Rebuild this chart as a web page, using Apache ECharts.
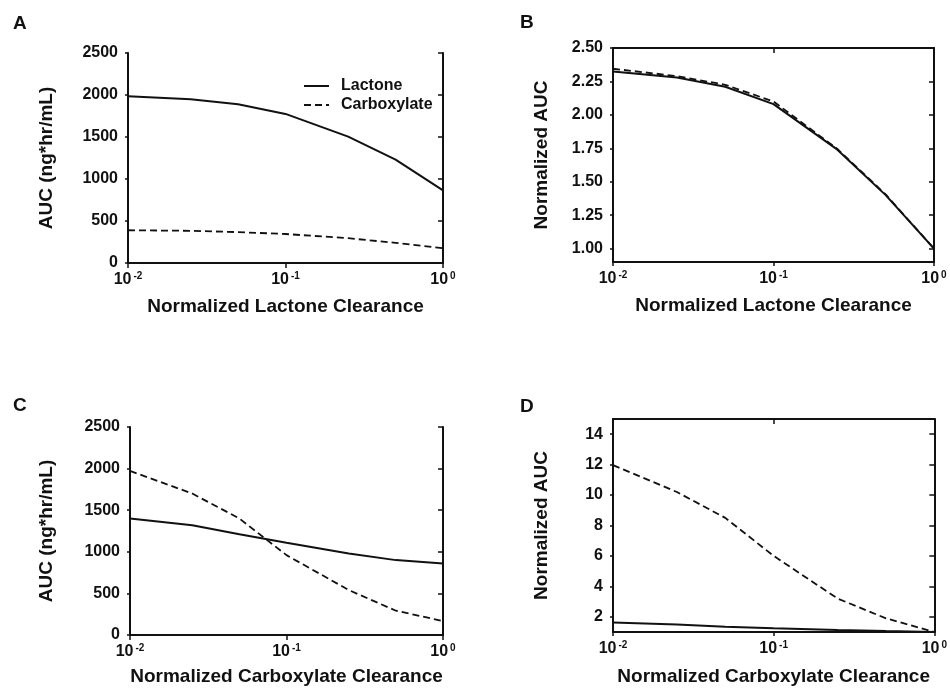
<!DOCTYPE html>
<html>
<head>
<meta charset="utf-8">
<script src="https://cdn.jsdelivr.net/npm/echarts@6/dist/echarts.min.js"></script>
<style>
  html, body { margin: 0; padding: 0; background: #fff; }
  #chart { width: 950px; height: 690px; }
</style>
</head>
<body>
<div id="chart"></div>
<script>
// clearance values (normalized, log scale)
var clearance = [0.01, 0.025, 0.05, 0.1, 0.25, 0.5, 1];

// panel A: AUC vs lactone clearance
var aLactone = [1985, 1950, 1890, 1775, 1505, 1230, 865];
var aCarbox = [390, 383, 368, 345, 295, 240, 175];
// panel B: normalized AUC vs lactone clearance
var bLactone = [2.325, 2.28, 2.21, 2.08, 1.74, 1.40, 1.00];
var bCarbox = [2.345, 2.29, 2.225, 2.10, 1.745, 1.405, 1.00];
// panel C: AUC vs carboxylate clearance
var cLactone = [1400, 1320, 1212, 1108, 980, 900, 860];
var cCarbox = [1972, 1700, 1400, 960, 540, 292, 168];
// panel D: normalized AUC vs carboxylate clearance
var dLactone = [1.63, 1.50, 1.35, 1.24, 1.13, 1.06, 1.00];
var dCarbox = [11.97, 10.2, 8.5, 6.0, 3.2, 1.9, 1.0];

var bTicks = [1.00, 1.25, 1.50, 1.75, 2.00, 2.25, 2.50];
var dTicks = [2, 4, 6, 8, 10, 12, 14];
var panelLetters = ['A', 'B', 'C', 'D'];

(function() {
  var ink = '#111';
  var font = '"Liberation Sans", Arial, sans-serif';
  var chart = echarts.init(document.getElementById('chart'), null, { renderer: 'canvas' });

  var grids = [
    { left: 128, right: 507, top: 53, bottom: 427 },
    { left: 613, right: 16, top: 48, bottom: 428 },
    { left: 130, right: 507, top: 427, bottom: 55 },
    { left: 613, right: 15, top: 419, bottom: 58 }
  ];

  function pairs(ys) {
    return clearance.map(function(x, i) { return [x, ys[i]]; });
  }

  function xAxes(gi, name, gap) {
    var line = { lineStyle: { color: ink, width: 2 } };
    return [{
      type: 'log', logBase: 10, min: 0.01, max: 1, gridIndex: gi,
      name: name, nameLocation: 'middle', nameGap: gap,
      nameTextStyle: { color: ink, fontSize: 19, fontWeight: 'bold', fontFamily: font },
      axisLine: line,
      axisTick: { inside: false, length: 4, lineStyle: { color: ink, width: 1.5 } },
      minorTick: { show: false },
      splitLine: { show: false },
      axisLabel: {
        margin: 8,
        formatter: function(v) {
          var e = Math.round(Math.log(v) / Math.LN10);
          return '{b|10}{s|' + e + '}';
        },
        rich: {
          b: { fontSize: 16, fontWeight: 'bold', color: ink, fontFamily: font, lineHeight: 18 },
          s: { fontSize: 10, fontWeight: 'bold', color: ink, fontFamily: font, verticalAlign: 'top', padding: [0, 0, 0, 2] }
        }
      }
    }, {
      type: 'log', logBase: 10, min: 0.01, max: 1, gridIndex: gi, position: 'top',
      axisLine: line,
      axisTick: { inside: true, length: 5, lineStyle: { color: ink, width: 1.5 } },
      axisLabel: { show: false },
      splitLine: { show: false }
    }];
  }

  function yAxes(gi, name, gap, min, max, interval, ticks, digits) {
    var line = { lineStyle: { color: ink, width: 2 } };
    var left = {
      type: 'value', min: min, max: max, gridIndex: gi,
      name: name, nameLocation: 'middle', nameGap: gap,
      nameTextStyle: { color: ink, fontSize: 19, fontWeight: 'bold', fontFamily: font },
      axisLine: line,
      axisTick: { show: true, inside: false, length: 3, lineStyle: { color: ink, width: 1.5 } },
      splitLine: { show: false },
      axisLabel: {
        margin: 10, color: ink, fontSize: 16, fontWeight: 'bold', fontFamily: font,
        formatter: function(v) { return v.toFixed(digits); }
      }
    };
    var right = {
      type: 'value', min: min, max: max, gridIndex: gi, position: 'right',
      axisLine: line,
      axisTick: { show: true, inside: true, length: 5, lineStyle: { color: ink, width: 1.5 } },
      axisLabel: { show: false },
      splitLine: { show: false }
    };
    if (interval) {
      left.interval = interval;
      right.interval = interval;
    } else {
      left.axisTick.customValues = ticks;
      left.axisLabel.customValues = ticks;
      right.axisTick.customValues = ticks;
    }
    return [left, right];
  }

  var xAxis = [].concat(
    xAxes(0, 'Normalized Lactone Clearance', 34),
    xAxes(1, 'Normalized Lactone Clearance', 34),
    xAxes(2, 'Normalized Carboxylate Clearance', 32),
    xAxes(3, 'Normalized Carboxylate Clearance', 35)
  );
  var yAxis = [].concat(
    yAxes(0, 'AUC (ng*hr/mL)', 72, 0, 2500, 500, null, 0),
    yAxes(1, 'Normalized AUC', 62, 0.9, 2.5, null, bTicks, 2),
    yAxes(2, 'AUC (ng*hr/mL)', 74, 0, 2500, 500, null, 0),
    yAxes(3, 'Normalized AUC', 62, 1, 15, null, dTicks, 0)
  );

  var panels = [[aLactone, aCarbox], [bLactone, bCarbox], [cLactone, cCarbox], [dLactone, dCarbox]];
  var series = [];
  panels.forEach(function(p, i) {
    series.push({
      name: 'Lactone', type: 'line', xAxisIndex: 2 * i, yAxisIndex: 2 * i,
      data: pairs(p[0]), symbol: 'none', smooth: false,
      lineStyle: { color: ink, width: 2 }, itemStyle: { color: ink }
    });
    series.push({
      name: 'Carboxylate', type: 'line', xAxisIndex: 2 * i, yAxisIndex: 2 * i,
      data: pairs(p[1]), symbol: 'none', smooth: false,
      lineStyle: { color: ink, width: 1.8, type: [7, 4] }, itemStyle: { color: ink }
    });
  });

  var letterPos = [[13, 14], [520, 13], [13, 396], [520, 397]];
  var graphic = panelLetters.map(function(t, i) {
    return {
      type: 'text', left: letterPos[i][0], top: letterPos[i][1],
      style: { text: t, fill: ink, fontSize: 19, fontWeight: 'bold', fontFamily: font }
    };
  });

  chart.setOption({
    animation: false,
    backgroundColor: '#fff',
    grid: grids,
    xAxis: xAxis,
    yAxis: yAxis,
    legend: {
      data: ['Lactone', 'Carboxylate'],
      orient: 'vertical', left: 298, top: 73,
      itemWidth: 25, itemHeight: 12, itemGap: 3,
      itemStyle: { opacity: 0 },
      textStyle: { color: ink, fontSize: 16, fontWeight: 'bold', fontFamily: font, padding: [0, 0, 0, 7] }
    },
    graphic: graphic,
    series: series
  });
  window.addEventListener('resize', function() { chart.resize(); });
})();
</script>
</body>
</html>
